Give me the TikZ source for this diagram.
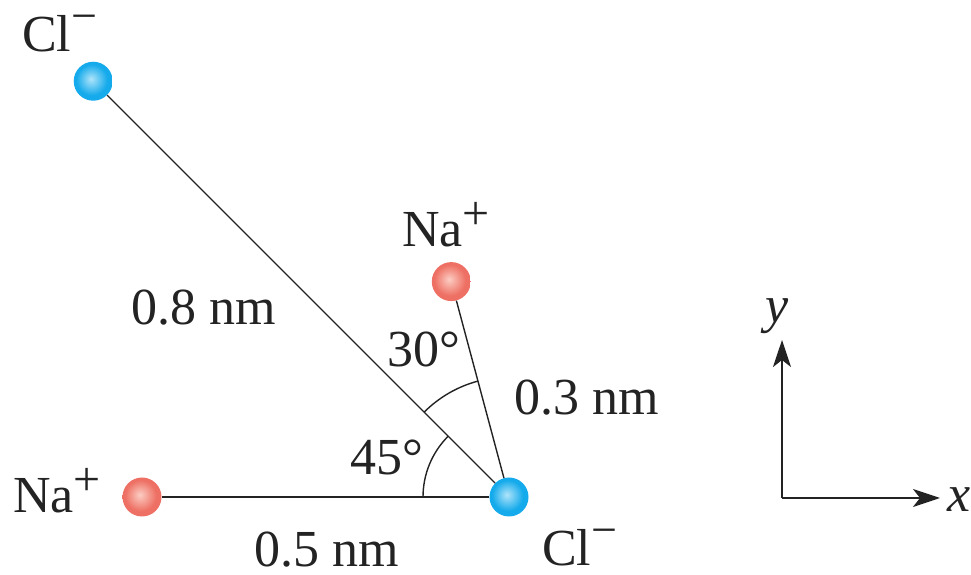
\documentclass[tikz,border=0pt]{standalone}
\usepackage{fontspec}
\setmainfont{Liberation Serif}
\usetikzlibrary{arrows.meta}
\definecolor{clmain}{RGB}{20,170,235}
\definecolor{cllight}{RGB}{175,228,250}
\definecolor{cledge}{RGB}{0,148,218}
\definecolor{namain}{RGB}{238,112,100}
\definecolor{nalight}{RGB}{252,205,195}
\definecolor{naedge}{RGB}{226,95,85}
\definecolor{ink}{RGB}{35,35,35}
\pgfdeclareradialshading{clshade}{\pgfpoint{-3bp}{3bp}}{color(0bp)=(cllight); color(20bp)=(clmain); color(44bp)=(clmain); color(50bp)=(cledge)}
\pgfdeclareradialshading{nashade}{\pgfpoint{-3bp}{3bp}}{color(0bp)=(nalight); color(20bp)=(namain); color(44bp)=(namain); color(50bp)=(naedge)}
\newcommand{\supplus}{\raisebox{0.33em}[0.6em][0pt]{\fontsize{48}{48}\selectfont +}}
\newcommand{\supminus}{\raisebox{0.4em}[0.6em][0pt]{\fontsize{46}{46}\selectfont −}}
\begin{document}
\begin{tikzpicture}[x=1pt,y=1pt,
  lbl/.style={anchor=base west,inner sep=0pt,outer sep=0pt,text=ink,font=\fontsize{52}{60}\selectfont},
  clball/.style={circle,minimum size=39pt,inner sep=0pt,shading=clshade},
  naball/.style={circle,minimum size=39pt,inner sep=0pt,shading=nashade},
  bond/.style={draw=ink,line width=1.4pt},
  axis/.style={draw=ink,line width=2.5pt,-{Stealth[length=27pt,width=18pt,inset=7pt]}}]
\useasboundingbox (0,0) rectangle (971,575);
% positions
\coordinate (c0) at (509,78);
\path (c0) ++(135:588) coordinate (pclt);
\path (c0) ++(105:223) coordinate (pnat);
\path (c0) ++(180:367) coordinate (pnal);
% angle arcs
\draw[bond] (c0) ++(180:86) arc[start angle=180,end angle=135,radius=86];
\draw[bond] (c0) ++(135:120) arc[start angle=135,end angle=105,radius=120];
% ions
\node[clball] (clb) at (c0) {};
\node[clball] (clt) at (pclt) {};
\node[naball] (nat) at (pnat) {};
\node[naball] (nal) at (pnal) {};
% bonds
\draw[bond] (clb) -- (clt);
\draw[bond] (clb) -- (nat);
\draw[bond] (clb) -- (nal);
% labels
\node[lbl] (lclt) at (22,523) {Cl\supminus};
\node[lbl] (lnat) at (402,328) {Na\supplus};
\node[lbl] (lnal) at (13,62) {Na\supplus};
\node[lbl] (lclb) at (542,9) {Cl\supminus};
\node[lbl] (l08) at (131,250) {0.8 nm};
\node[lbl] (l30) at (387,208) {30°};
\node[lbl] (l45) at (350,100) {45°};
\node[lbl] (l03) at (514,160) {0.3 nm};
\node[lbl] (l05) at (254,8) {0.5 nm};
% axes
\coordinate (o) at (782,77);
\coordinate (ytip) at (782,235);
\coordinate (xtip) at (940,77);
\draw[axis] (o) -- (ytip);
\draw[axis] (o) -- (xtip);
\node[lbl] (ly) at (765,252) {\textit{y}};
\node[lbl] (lx) at (947,63) {\textit{x}};
\end{tikzpicture}
\end{document}
